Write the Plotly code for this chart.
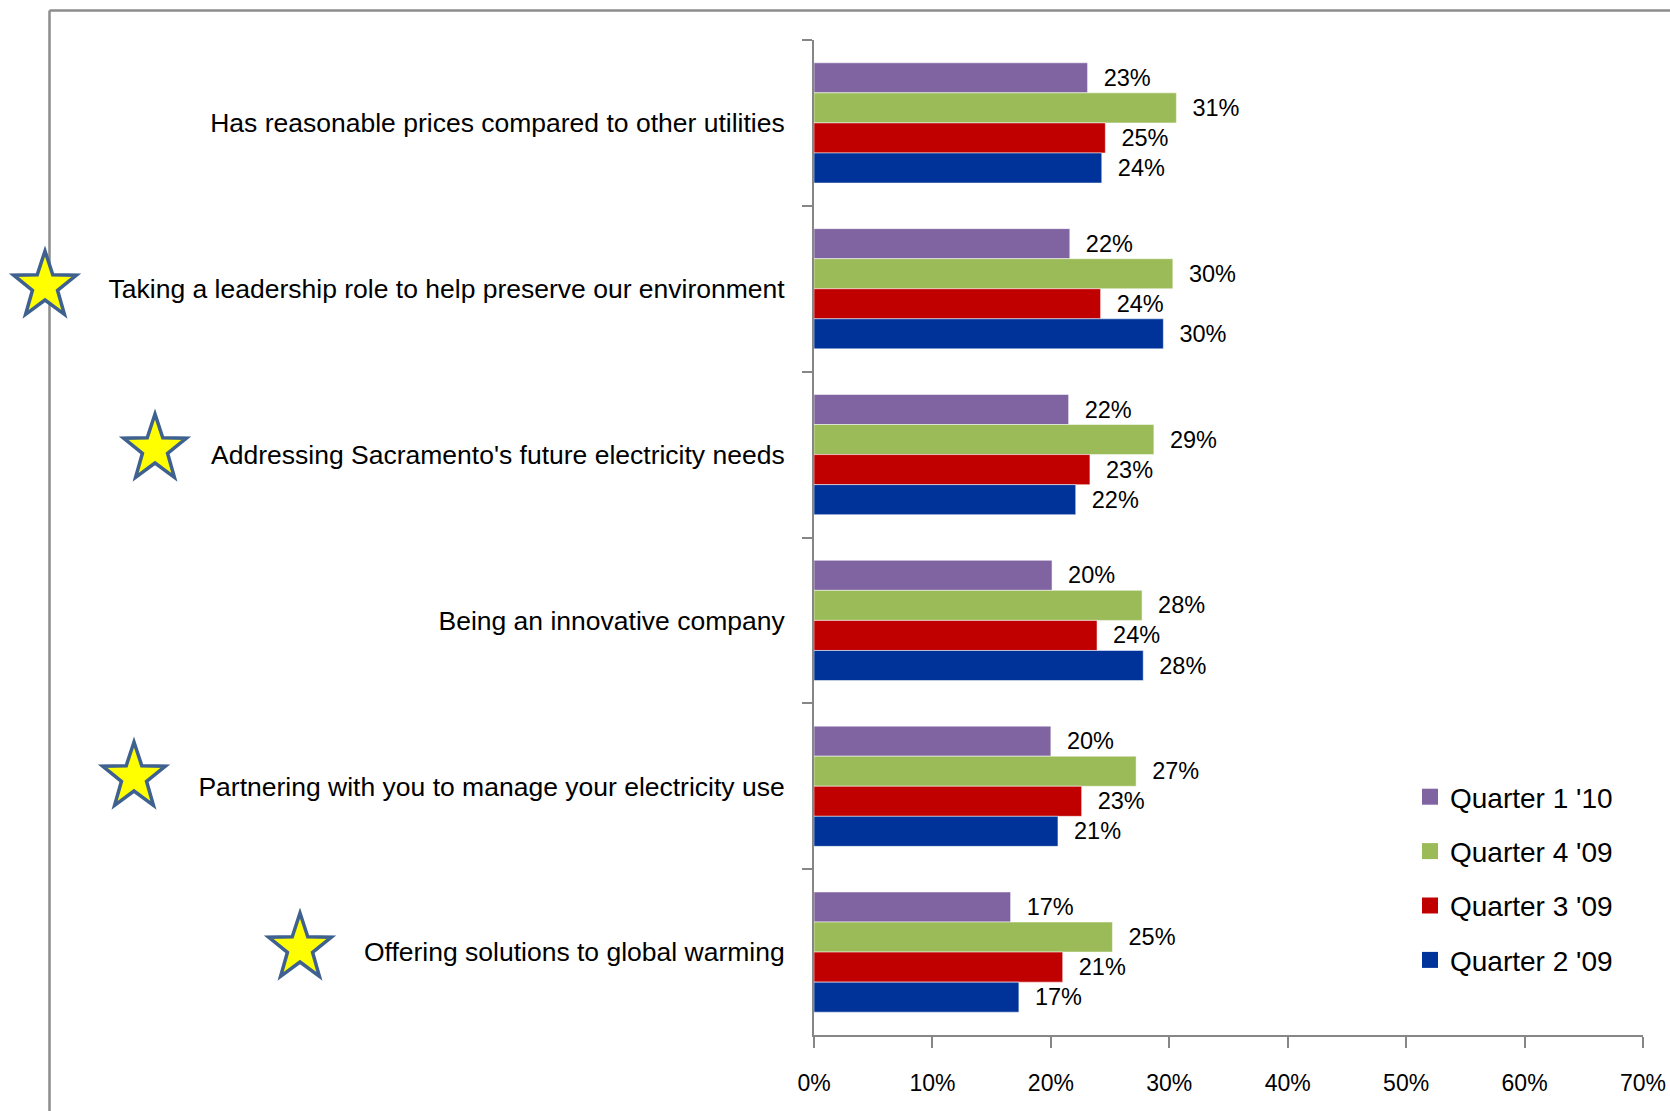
import math
import plotly.graph_objects as go

categories = [
    "Has reasonable prices compared to other utilities",
    "Taking a leadership role to help preserve our environment",
    "Addressing Sacramento's future electricity needs",
    "Being an innovative company",
    "Partnering with you to manage your electricity use",
    "Offering solutions to global warming",
]
series_names = ["Quarter 1 '10", "Quarter 4 '09", "Quarter 3 '09", "Quarter 2 '09"]
q1_10 = [23.1, 21.6, 21.5, 20.1, 20.0, 16.6]
q4_09 = [30.6, 30.3, 28.7, 27.7, 27.2, 25.2]
q3_09 = [24.6, 24.2, 23.3, 23.9, 22.6, 21.0]
q2_09 = [24.3, 29.5, 22.1, 27.8, 20.6, 17.3]
series_values = [q1_10, q4_09, q3_09, q2_09]
colors = ["#8064A2", "#9BBB59", "#C00000", "#003399"]
tick_vals = [0, 10, 20, 30, 40, 50, 60, 70]
tick_text = ["0%", "10%", "20%", "30%", "40%", "50%", "60%", "70%"]
starred = [False, True, True, False, True, True]

W, H = 1670, 1111
PX0, PX1, PY0, PY1 = 814, 1643, 40, 1035
FONT = "Liberation Sans, Arial, sans-serif"


def fx(px):
    return (px - PX0) / (PX1 - PX0)


def fy(py):
    return (PY1 - py) / (PY1 - PY0)


fig = go.Figure()
for name, vals, col in zip(series_names, series_values, colors):
    fig.add_trace(go.Bar(
        y=categories, x=vals, orientation="h", name=name,
        marker=dict(color=col, line=dict(color="rgba(255,255,255,0.5)", width=1)),
        text=["  %d%%" % int(v + 0.5) for v in vals],
        textposition="outside", cliponaxis=False,
        textfont=dict(family=FONT, size=23.5, color="black"),
        showlegend=False,
    ))
# legend entries with larger square swatches
for i, (name, col) in enumerate(zip(series_names, colors)):
    fig.add_trace(go.Scatter(
        x=[None], y=[None], mode="markers", name=name, legendgroup="g%d" % i,
        marker=dict(symbol="square", size=16, color=col),
    ))

shapes = []
# outer frame (top and left edges)
shapes.append(dict(type="line", xref="paper", yref="paper",
                   x0=fx(49.5), x1=fx(W + 5), y0=fy(10.5), y1=fy(10.5),
                   line=dict(color="#8C8C8C", width=2.5)))
shapes.append(dict(type="line", xref="paper", yref="paper",
                   x0=fx(49.5), x1=fx(49.5), y0=fy(10.5), y1=fy(H + 5),
                   line=dict(color="#8C8C8C", width=2.5)))

# stars next to highlighted attributes
star_centers = {1: (45, 286), 2: (155, 449), 4: (134, 777), 5: (300, 948)}
Rx, Ry, ratio = 33, 35, 0.40
for idx, (cx, cy) in star_centers.items():
    if not starred[idx]:
        continue
    pts = []
    for k in range(10):
        a = math.radians(-90 + 36 * k)
        r = 1.0 if k % 2 == 0 else ratio
        pts.append((fx(cx + Rx * r * math.cos(a)), fy(cy + Ry * r * math.sin(a))))
    path = "M " + " L ".join("%.5f,%.5f" % p for p in pts) + " Z"
    shapes.append(dict(type="path", xref="paper", yref="paper", path=path,
                       fillcolor="#FFFF00", line=dict(color="#3F6190", width=3.5),
                       layer="above"))

fig.update_layout(
    width=W, height=H,
    margin=dict(l=PX0, r=W - PX1, t=PY0, b=H - PY1, pad=0, autoexpand=False),
    paper_bgcolor="white", plot_bgcolor="white",
    barmode="group", bargap=0.275, bargroupgap=0,
    font=dict(family=FONT, color="black"),
    xaxis=dict(range=[0, 70], tickvals=tick_vals, ticktext=tick_text,
               showgrid=False, zeroline=False, showline=True, automargin=False,
               linecolor="#868686", linewidth=2, ticks="outside", ticklen=11,
               tickwidth=2, tickcolor="#868686", ticklabelstandoff=15,
               tickfont=dict(family=FONT, size=23, color="black")),
    yaxis=dict(autorange="reversed", showgrid=False, zeroline=False, showline=True,
               automargin=False,
               linecolor="#868686", linewidth=2, ticks="outside", ticklen=10,
               tickwidth=2, tickcolor="#868686", tickson="boundaries",
               ticklabelstandoff=22,
               tickfont=dict(family=FONT, size=26.5, color="black")),
    legend=dict(x=fx(1410), y=fy(772), xanchor="left", yanchor="top",
                traceorder="grouped", tracegroupgap=15,
                font=dict(family=FONT, size=28, color="black"),
                bgcolor="rgba(0,0,0,0)", itemsizing="trace"),
    shapes=shapes,
    showlegend=True,
)

fig.write_html("out.html", config={"displayModeBar": False},
               post_script="document.body.style.margin='0';document.body.style.padding='0';")
